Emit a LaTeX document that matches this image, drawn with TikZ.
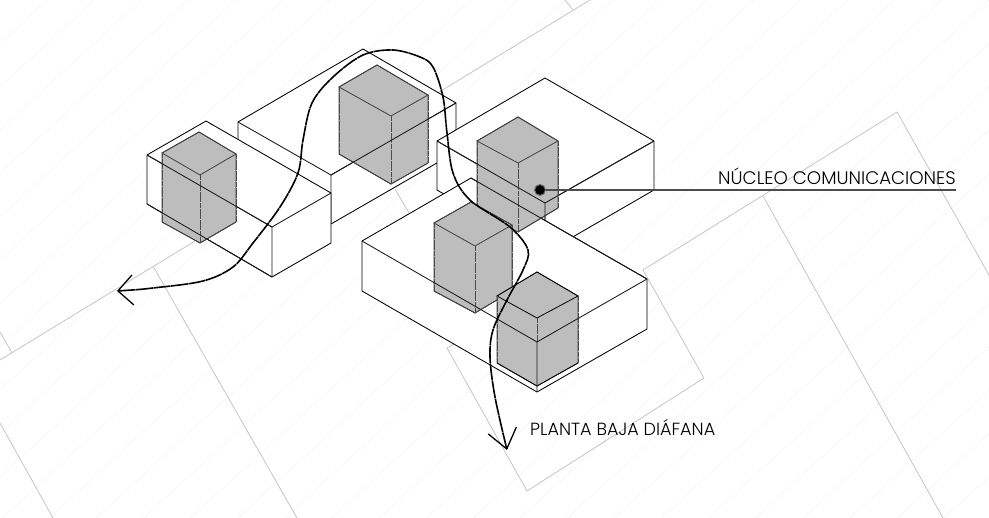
\documentclass[tikz,border=0pt]{standalone}
\usepackage{fontspec}
\setmainfont{Poppins Light}
\usetikzlibrary{arrows.meta,positioning}

\begin{document}
\begin{tikzpicture}[
    x=1pt, y=-1pt,
    faint/.style={draw=black!5,line width=0.5pt},
    site/.style={draw=black!25,line width=0.7pt},
    slab/.style={draw=black,fill=white,line width=0.85pt,line join=bevel},
    slabedge/.style={draw=black!90,line width=0.85pt},
    core/.style={fill=black!26,draw=black!75,line width=0.8pt},
    coreside/.style={draw=black!70,line width=0.9pt,dash pattern=on 5pt off 0.6pt},
    flow/.style={{Straight Barb[length=15pt,width=30pt,line width=1.3pt]}-{Straight Barb[length=19pt,width=29pt,line width=1.3pt]},
                 line width=1.6pt,dash pattern=on 17pt off 0.6pt},
    note/.style={inner sep=0pt,anchor=base west}
]
\useasboundingbox (0,0) rectangle (989,518);
\clip (0,0) rectangle (989,518);

% Faint hatching
\foreach \k in {1,...,32}
    \draw[faint] ({47.1*\k},0) -- ({47.1*\k-563},518);

% Site plot lines
\draw[site] (0,360) -- (590,0);
\draw[site] (0,332) -- (12,353);
\draw[site] (565,0) -- (573,10);
\draw[site] (153,266) -- (297,518);
\draw[site] (0,423) -- (53,518);
\draw[site] (395,189) -- (409,213);
\draw[site] (470,334) -- (447,348) -- (527,491) -- (704,378) -- (643,270) -- (897,112) -- (989,275);
\draw[site] (763,196) -- (943,518);

% Slabs, back to front
\draw[slab] (238,122) -- (363,49) -- (456,103) -- (456,152) -- (331,224) -- (238,171) -- cycle;
\draw[slabedge] (238,122) -- (331,175) -- (456,103) (331,175) -- (331,224);
\draw[slab] (147,155) -- (206,121) -- (331,193) -- (331,243) -- (272,277) -- (147,204) -- cycle;
\draw[slabedge] (147,155) -- (272,227) -- (331,193) (272,227) -- (272,277);
\draw[slab] (437,141) -- (545,78) -- (654,141) -- (654,190) -- (545,253) -- (437,190) -- cycle;
\draw[slabedge] (437,141) -- (545,203) -- (654,141) (545,203) -- (545,253);
\draw[slab] (362,241) -- (471,178) -- (647,279) -- (647,329) -- (537,392) -- (362,291) -- cycle;

% Left core
\path[core] (162,153) -- (199,132) -- (236,154) -- (236,222) -- (200,243) -- (162,222) -- cycle;
\draw[core,fill=none] (162,153) -- (199,132) -- (236,154) -- (200,175) -- cycle;
\draw[core,fill=none] (162,222) -- (200,243) -- (236,222);
\draw[coreside] (162,153) -- (162,222) (200,175) -- (200,243) (236,154) -- (236,222);

% Back core
\path[core] (339,87) -- (377,65) -- (428,95) -- (428,163) -- (391,184) -- (339,154) -- cycle;
\draw[core,fill=none] (339,87) -- (377,65) -- (428,95) -- (391,116) -- cycle;
\draw[core,fill=none] (339,154) -- (391,184) -- (428,163);
\draw[coreside] (339,87) -- (339,154) (391,116) -- (391,184) (428,95) -- (428,163);

% Communications core
\path[core] (477,141) -- (518,117) -- (558,141) -- (558,208) -- (518,232) -- (477,209) -- cycle;
\draw[core,fill=none] (477,141) -- (518,117) -- (558,141) -- (518,163) -- cycle;
\draw[core,fill=none] (518,232) -- (558,208);
\draw[coreside] (477,141) -- (477,209) (518,163) -- (518,232) (558,141) -- (558,208);

% Middle core
\path[core] (434,223) -- (471,202) -- (512,225) -- (512,291) -- (475,313) -- (434,291) -- cycle;
\draw[core,fill=none] (434,223) -- (471,202) -- (512,225) -- (475,246) -- cycle;
\draw[core,fill=none] (434,291) -- (475,313) -- (512,291);
\draw[coreside] (434,223) -- (434,291) (475,246) -- (475,313) (512,225) -- (512,291);

% Front core
\path[core] (497,296) -- (537,272) -- (578,296) -- (578,363) -- (537,386) -- (497,363) -- cycle;
\draw[core,fill=none,draw=black] (497,296) -- (537,272) -- (578,296) -- (537,318) -- cycle;
\draw[core,fill=none,draw=black] (497,363) -- (537,386) -- (578,363);
\draw[coreside] (497,296) -- (497,363) (537,318) -- (537,342) (578,296) -- (578,363);

% Slab edges seen through the cores
\draw[slabedge] (147,155) -- (272,227);
\draw[slabedge] (147,204) -- (272,277);
\draw[slabedge] (331,175) -- (456,103);
\draw[slabedge] (437,141) -- (545,203) -- (654,141) (545,203) -- (545,220);
\draw[slabedge] (471,178) -- (647,279);
\draw[slabedge] (362,241) -- (537,342) -- (647,279) (537,342) -- (537,392);

% Route through the ground floor
\draw[flow] plot[smooth,tension=0.55] coordinates {(117,291) (153,288) (203,281) (233,267)
    (253,243) (280,207) (298,173) (303,140) (312,103) (333,77) (363,55) (393,50) (420,57)
    (433,67) (443,97) (447,133) (453,173) (470,200) (510,227) (528,250) (523,270)
    (507,300) (493,330) (490,357) (495,397) (507,450)};

% Labels
\node[circle,fill=black,draw=black!55,line width=1pt,minimum size=11pt,inner sep=0pt] (dot) at (540,190) {};
\coordinate (leaderend) at (956,190);
\draw[draw=black!70,line width=1.1pt] (dot) -- (leaderend);
\node[note,font=\fontsize{18.2}{19}\selectfont] (nucleo) at (718,185) {NÚCLEO COMUNICACIONES};
\node[note,font=\fontsize{17.6}{19}\selectfont] (planta) at (530,436) {PLANTA BAJA DIÁFANA};

\end{tikzpicture}
\end{document}
